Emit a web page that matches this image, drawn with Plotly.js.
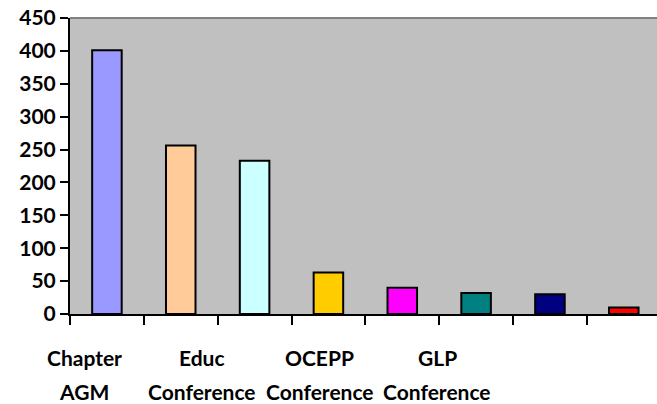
<!DOCTYPE html>
<html>
<head>
<meta charset="utf-8">
<script src="https://cdn.plot.ly/plotly-3.0.1.min.js"></script>
<style>html,body{margin:0;padding:0;background:#fff;}#chart{width:657px;height:404px;}</style>
</head>
<body>
<div id="chart"></div>
<script>
// Data
const barIndex = [0, 1, 2, 3, 4, 5, 6, 7];
const values = [401, 256, 233, 63, 40, 32, 30, 10];
const barColors = ['#9999FF', '#FFCC99', '#CCFFFF', '#FFCC00', '#FF00FF', '#008080', '#000080', '#FF0000'];
const labelLine1 = ['Chapter', 'Educ', 'OCEPP', 'GLP'];
const labelLine2 = ['AGM', 'Conference', 'Conference', 'Conference'];
const yTicks = [0, 50, 100, 150, 200, 250, 300, 350, 400, 450];

// label positions (in category units) as laid out in the reference
const labelPos = labelLine1.map((_, i) => -0.31 + i * 1.595);
const boundaries = barIndex.map(i => i - 0.5).concat([barIndex.length - 0.5]);

const font = {family: 'Lato, "Liberation Sans", sans-serif', size: 21, color: '#000', weight: 700};

const annotations = [];
labelLine1.forEach((t, i) => {
  annotations.push({x: labelPos[i], xref: 'x', y: -0.146, yref: 'paper', text: '<b>' + t + '</b>',
    showarrow: false, xanchor: 'center', yanchor: 'middle', borderpad: 0, font: font});
  annotations.push({x: labelPos[i], xref: 'x', y: -0.262, yref: 'paper', text: '<b>' + labelLine2[i] + '</b>',
    showarrow: false, xanchor: 'center', yanchor: 'middle', borderpad: 0, font: font});
});

const trace = {
  type: 'bar', x: barIndex, y: values, width: 0.4,
  marker: {color: barColors, line: {color: '#000', width: 2}},
  hoverinfo: 'y'
};

const layout = {
  width: 657, height: 404,
  margin: {l: 70, r: 0, t: 18, b: 90},
  paper_bgcolor: '#fff', plot_bgcolor: '#C0C0C0',
  showlegend: false,
  bargap: 0.6,
  xaxis: {range: [-0.5, 7.45], showgrid: false, zeroline: false, showline: true, linecolor: '#000', linewidth: 2,
    tickmode: 'array', tickvals: boundaries, ticktext: boundaries.map(() => ''),
    ticks: 'outside', ticklen: 9, tickwidth: 2, tickcolor: '#000', showticklabels: false, fixedrange: true},
  yaxis: {range: [0, 450], tickmode: 'array', tickvals: yTicks, showgrid: false, zeroline: false,
    showline: true, linecolor: '#000', linewidth: 2, ticks: 'outside', ticklen: 8, tickwidth: 2, tickcolor: '#000',
    tickfont: font, fixedrange: true},
  shapes: [{type: 'line', xref: 'paper', yref: 'paper', x0: 0, x1: 1, y0: 1, y1: 1, line: {color: '#808080', width: 2}}],
  annotations: annotations
};

Plotly.newPlot('chart', [trace], layout, {displayModeBar: false, staticPlot: true});
</script>
</body>
</html>
